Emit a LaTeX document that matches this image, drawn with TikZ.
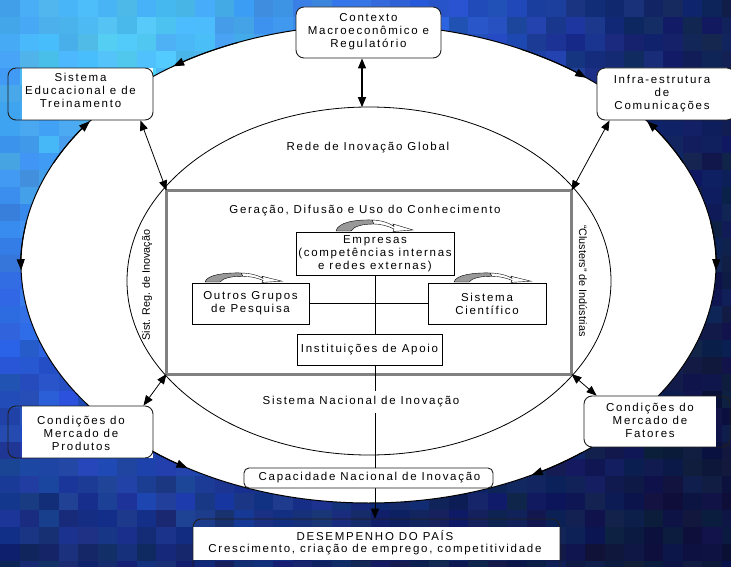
\documentclass[tikz,border=0pt]{standalone}
\usepackage{fontspec}
\setmainfont{Liberation Sans}
\newfontfamily\spfont[LetterSpace=15]{Liberation Sans}
\usetikzlibrary{arrows.meta,calc}
\pgfdeclarelayer{front}
\pgfsetlayers{main,front}
\tikzset{
  txt/.style={font=\spfont\fontsize{11.5}{13}\selectfont, align=center, inner sep=0pt},
  sidetxt/.style={font=\fontsize{10.8}{12}\selectfont, inner sep=0pt},
  rbox/.style={draw=black!88, line width=0.9pt, rounded corners=8pt, inner sep=0pt},
  sbox/.style={draw=black, line width=0.9pt, fill=white, inner sep=0pt, align=center,
               font=\spfont\fontsize{11.5}{13}\selectfont},
  corebox/.style={draw=black!50, line width=3pt, inner sep=0pt, outer sep=0pt},
  otip/.style={line width=1pt, -{Triangle[length=11pt,width=8pt]}},
  dbl/.style={line width=0.8pt, {Triangle[length=10pt,width=8pt]}-{Triangle[length=10pt,width=8pt]}},
  link/.style={line width=0.9pt},
  curv/.pic={
    \filldraw[fill=black!40, draw=black, line width=0.4pt]
      (0,0) .. controls (2,-9) and (20,-11.5) .. (36,-11) -- (38,-7)
      .. controls (27,-7) and (18,-5) .. (15,0) -- cycle;
    \filldraw[fill=white, draw=black, line width=0.4pt]
      (36,-11) .. controls (47,-10.6) and (54,-7.5) .. (58,-4.5) -- (57,-7) -- (77,-1)
      -- (57,0.5) -- (58,-2) .. controls (52,-5) and (45,-7) .. (38,-7) -- cycle;
  }
}
\newcommand\ovarc[2]{\draw[otip] ({368.5+347.5*cos(#1)},{264+239*sin(#1)}) arc[start angle=#1, end angle=#2, x radius=347.5, y radius=239];}
\begin{document}
\begin{tikzpicture}[x=1pt,y=-1pt]
\useasboundingbox (0,0) rectangle (731,567);
\clip (0,0) rectangle (731,567);
% mosaic background
\pgfmathsetseed{11}
\foreach \i in {0,...,37}{
  \foreach \j in {0,...,33}{
    \pgfmathsetmacro{\tdx}{(\i*19.5+9.75-120)/100}
    \pgfmathsetmacro{\tdy}{1.0*(\j*17+8.5-60)/100}
    \pgfmathsetmacro{\tv}{max(0,min(1.15,sqrt(\tdx*\tdx+\tdy*\tdy)/6.2+0.05*rand))}
    \pgfmathtruncatemacro{\cR}{max(0,min(255,((\tv<0.5) ? (85-84*\tv) : ((\tv<0.85) ? (43-71.4*(\tv-0.5)) : (18-13.3*(\tv-0.85)))) + 5*rand))}
    \pgfmathtruncatemacro{\cG}{max(0,min(255,((\tv<0.5) ? (210-240*\tv) : ((\tv<0.85) ? (90-151.4*(\tv-0.5)) : (37-50*(\tv-0.85)))) + 8*rand))}
    \pgfmathtruncatemacro{\cB}{max(0,min(255,((\tv<0.5) ? (250-60*\tv) : ((\tv<0.85) ? (220-334.3*(\tv-0.5)) : (103-130*(\tv-0.85)))) + 12*rand))}
    \definecolor{tile}{RGB}{\cR,\cG,\cB}
    \fill[tile] (\i*19.5,\j*17) rectangle ++(19.8,17.3);
  }
}
% outer ellipse
\draw[fill=white, line width=1pt] (368.5,264) ellipse [x radius=347.5, y radius=239];
\ovarc{248}{235.8}
\ovarc{296}{308.8}
\ovarc{205}{216.7}
\ovarc{190}{178.5}
\ovarc{-10}{1.5}
\ovarc{335}{323.3}
\ovarc{132}{121.4}
\ovarc{52}{62}
% inner ellipse
\draw[line width=0.8pt] (369,281) ellipse [x radius=242, y radius=174];
\coordinate (itop) at (362,107.2);
% core rectangle
\node[corebox, minimum width=405pt, minimum height=183.5pt] (core) at (369,282.25) {};
% outer box fills and outlines
\fill[white] (22,68) rectangle (153,120);
\fill[white] (22,406) rectangle (153,458);
\fill[white] (584,396) rectangle (716,447);
\fill[white] (193,527) rectangle (560,560);
\node[rbox, fill=white, minimum width=145pt, minimum height=51pt] (ctx) at (368.5,32.5) {};
\node[rbox, minimum width=145pt, minimum height=52pt] (edu) at (80.5,94) {};
\node[rbox, fill=white, minimum width=138pt, minimum height=52pt] (inf) at (666,94) {};
\node[rbox, minimum width=145pt, minimum height=52pt] (prd) at (80.5,432) {};
\node[rbox, minimum width=146pt, minimum height=51pt] (fat) at (657,421.5) {};
\node[rbox, minimum width=367pt, minimum height=61pt] (des) at (376.5,549.5) {};
% inner boxes (front layer)
\begin{pgfonlayer}{front}
\node[sbox, minimum width=158pt, minimum height=43pt] (emp) at (375,253.5) {Empresas\\(competências internas\\e redes externas)};
\node[sbox, minimum width=117pt, minimum height=41pt] (og) at (250.5,303.5) {Outros Grupos\\de Pesquisa};
\node[sbox, minimum width=118pt, minimum height=41pt] (sc) at (487,303.5) {Sistema\\Científico};
\node[sbox, minimum width=145pt, minimum height=31pt] (ia) at (369.5,349.5) {Instituições de Apoio};
\node[rbox, rounded corners=5pt, fill=white, minimum width=249pt, minimum height=20pt] (cap) at (368.5,478) {};
\node[txt] (tcap) at (369.5,478) {Capacidade Nacional de Inovação};
\node[txt, fill=white, inner xsep=3pt, inner ysep=6pt] (tsni) at (361,402) {Sistema Nacional de Inovação};
\end{pgfonlayer}
% connectors
\draw[link, -{Triangle[length=10pt,width=8pt]}] (emp.south) -- (emp.south |- des.north);
\draw[link] (og.east) -- (sc.west);
\draw[dbl, line width=1.3pt] ($(ctx.south)+(-6.5,0)$) -- (itop);
\draw[dbl] ($(edu.south east)+(-13,0)$) -- (core.north west);
\draw[dbl] ($(inf.south west)+(13,0)$) -- (core.north east);
\draw[dbl] ($(prd.north east)+(-10,0)$) -- (core.south west);
\draw[dbl] ($(fat.north west)+(13,0)$) -- (core.south east);
% curved arrows
\begin{pgfonlayer}{front}
\pic at (336,231) {curv};
\pic[yscale=0.82] at (205,282) {curv};
\pic[yscale=0.82] at (454,282) {curv};
\end{pgfonlayer}
% texts
\node[txt] (tctx) at (368.5,32) {Contexto\\Macroeconômico e\\Regulatório};
\node[txt] (tedu) at (80.5,90) {Sistema\\Educacional e de\\Treinamento};
\node[txt] (tinf) at (662,94) {Infra-estrutura\\de\\Comunicações};
\node[txt] (tprd) at (81,433) {Condições do\\Mercado de\\Produtos};
\node[txt] (tfat) at (650,420) {Condições do\\Mercado de\\Fatores};
\node[txt, font=\spfont\fontsize{11.5}{12}\selectfont] (tdes) at (375,542.5) {DESEMPENHO DO PAÍS\\Crescimento, criação de emprego, competitividade};
\node[txt] (trede) at (368,148) {Rede de Inovação Global};
\node[txt] (tger) at (365,211) {Geração, Difusão e Uso do Conhecimento};
\node[sidetxt, rotate=90] (tsreg) at (147,285) {Sist. Reg. de Inovação};
\node[sidetxt, rotate=-90] (tclu) at (583,281) {“Clusters” de Indústrias};
\end{tikzpicture}
\end{document}
